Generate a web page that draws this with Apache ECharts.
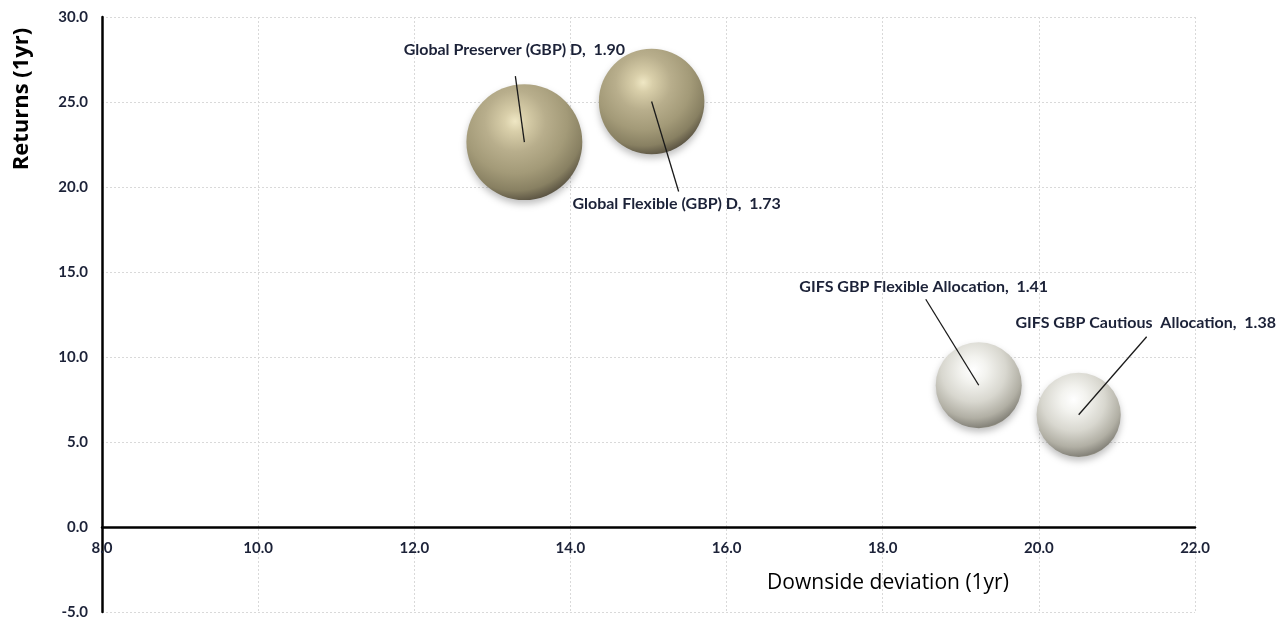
<!DOCTYPE html>
<html>
<head>
<meta charset="utf-8">
<script src="https://cdn.jsdelivr.net/npm/echarts@6/dist/echarts.min.js"></script>
<style>
html,body{margin:0;padding:0;background:#fff;}
#c{width:1287px;height:618px;}
</style>
</head>
<body>
<div id="c"></div>
<script>
// ---- data ----
const fundNames = ['Global Preserver (GBP) D', 'Global Flexible (GBP) D', 'GIFS GBP Flexible Allocation', 'GIFS GBP Cautious  Allocation'];
const downsideDeviation = [13.41, 15.04, 19.23, 20.51];
const returns1yr = [22.64, 25.03, 8.34, 6.60];
const bubbleSize = [1.90, 1.73, 1.41, 1.38];
const xTicks = [8, 10, 12, 14, 16, 18, 20, 22];
const yTicks = [-5, 0, 5, 10, 15, 20, 25, 30];

// ---- styling / layout (not data) ----
const gold = {type:'radial', x:0.42, y:0.32, r:0.75, colorStops:[
  {offset:0, color:'#efe7c4'},{offset:0.12, color:'#d9cfaa'},{offset:0.35, color:'#b8ae8c'},
  {offset:0.6, color:'#a39a78'},{offset:0.8, color:'#888062'},{offset:0.93, color:'#5a5342'},{offset:1, color:'#726a52'}]};
const silver = {type:'radial', x:0.44, y:0.32, r:0.75, colorStops:[
  {offset:0, color:'#ffffff'},{offset:0.2, color:'#f3f3ef'},{offset:0.5, color:'#d8d7cf'},
  {offset:0.75, color:'#b1afa4'},{offset:0.9, color:'#85837a'},{offset:1, color:'#cdc7a2'}]};
const fills = [gold, gold, silver, silver];
// label placement relative to bubble centre (pixels): text centre and leader-line end
const labelLayout = [
  {tx:-10, ty:-92, lx:-9, ly:-66},
  {tx:25, ty:102, lx:27, ly:90},
  {tx:-55, ty:-98, lx:-53, ly:-86},
  {tx:67, ty:-92, lx:68, ly:-78}
];
const txtColor = '#1c2238';

const data = fundNames.map((n, i) => ({
  name: n,
  value: [downsideDeviation[i], returns1yr[i], bubbleSize[i]],
  itemStyle: {color: fills[i]}
}));

const chart = echarts.init(document.getElementById('c'), null, {renderer:'canvas'});
chart.setOption({
  animation: false,
  backgroundColor: '#ffffff',
  grid: {left:102, top:17, width:1093, height:595, containLabel:false, outerBoundsMode:'none'},
  xAxis: {
    type:'value', min:xTicks[0], max:xTicks[xTicks.length-1], interval:2,
    offset:0,
    axisLine:{show:true, onZero:false, lineStyle:{color:'#000', width:2.5}},
    axisTick:{show:false},
    axisLabel:{show:true, margin:14, showMinLabel:true, showMaxLabel:true,
      formatter:v => v.toFixed(1), color:txtColor, fontFamily:'Lato', fontWeight:'bold', fontSize:15},
    splitLine:{show:true, lineStyle:{color:'#d9d9d9', type:[2,2], width:1}}
  },
  yAxis: {
    type:'value', min:yTicks[0], max:yTicks[yTicks.length-1], interval:5,
    axisLine:{show:true, onZero:false, lineStyle:{color:'#000', width:2.5}},
    axisTick:{show:false},
    axisLabel:{show:true, margin:14, showMinLabel:true, showMaxLabel:true,
      formatter:v => v.toFixed(1), color:txtColor, fontFamily:'Lato', fontWeight:'bold', fontSize:15},
    splitLine:{show:true, lineStyle:{color:'#d9d9d9', type:[2,2], width:1}}
  },
  graphic: [
    {type:'text', x:22, y:99, rotation:Math.PI/2,
      style:{text:'Returns (1yr)', textAlign:'center', textVerticalAlign:'middle',
        font:'bold 22px "Open Sans"', fill:'#000'}},
    {type:'text', x:888, y:583,
      style:{text:'Downside deviation (1yr)', textAlign:'center', textVerticalAlign:'middle',
        font:'21px "Open Sans"', fill:'#000'}}
  ],
  series: [
    {
      type:'scatter', data:data, z:2,
      symbolSize: v => v[2] * 61,
      itemStyle:{shadowBlur:7, shadowColor:'rgba(0,0,0,0.25)', shadowOffsetY:4, opacity:1},
      emphasis:{disabled:true}
    },
    {
      type:'custom', z:5, clip:false,
      data: data.map(d => d.value),
      renderItem: function(params, api) {
        const i = params.dataIndex;
        const c = api.coord([api.value(0), api.value(1)]);
        const L = labelLayout[i];
        return {type:'group', children:[
          {type:'line', shape:{x1:c[0], y1:c[1], x2:c[0]+L.lx, y2:c[1]+L.ly},
            style:{stroke:'#1a1a1a', lineWidth:1.3}},
          {type:'text', x:c[0]+L.tx, y:c[1]+L.ty,
            style:{text: fundNames[i] + ',  ' + api.value(2).toFixed(2), textAlign:'center', textVerticalAlign:'middle',
              font:'bold 16px Lato', fill:txtColor}}
        ]};
      }
    }
  ]
});
// move the x axis (line and labels) up to y = 0 using the library's own y scale
const zeroPx = chart.convertToPixel({yAxisIndex:0}, 0);
const bottomPx = chart.convertToPixel({yAxisIndex:0}, yTicks[0]);
chart.setOption({xAxis:{offset: zeroPx - bottomPx}});
</script>
</body>
</html>
